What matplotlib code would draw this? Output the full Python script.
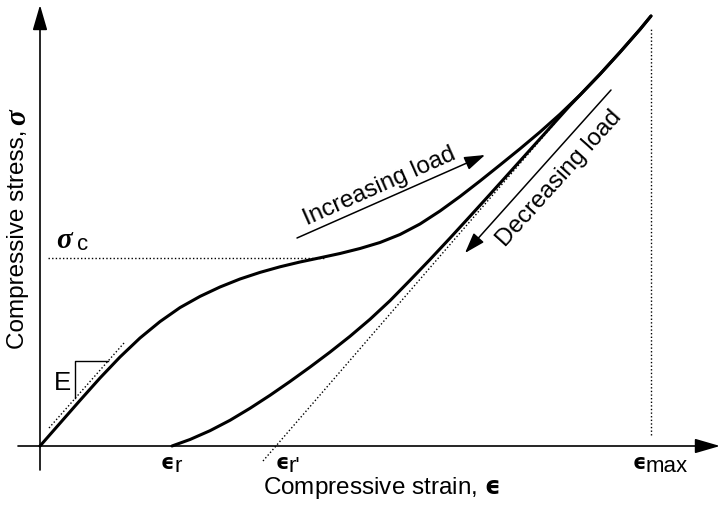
import numpy as np
import matplotlib
matplotlib.use("Agg")
import matplotlib.pyplot as plt

plt.rcParams['font.family'] = ['Liberation Sans', 'DejaVu Sans']
plt.rcParams['mathtext.fontset'] = 'custom'
plt.rcParams['mathtext.rm'] = 'Liberation Sans'
plt.rcParams['mathtext.bfit'] = 'Liberation Serif:italic:bold'
plt.rcParams['mathtext.bf'] = 'DejaVu Sans:bold'

# schematic stress-strain data (arbitrary units)
load_strain = [0, 20, 40, 60, 80, 100, 120, 140, 160, 180, 200, 220, 240, 260,
               280, 300, 320, 340, 360, 380, 400, 420, 440, 460, 480, 500, 520,
               540, 560, 580, 600, 611]
load_stress = [0, 22.8, 45.6, 68, 89, 108, 124.4, 138.4, 149.6, 159, 167, 173.6,
               179.2, 184, 188.2, 192.5, 197.5, 203.5, 211.5, 222, 235, 249.5,
               265, 281, 297.2, 314, 331.8, 351, 371.8, 393.8, 416.6, 430]

unload_strain = [132, 150, 170, 190, 210, 230, 250, 270, 290, 310, 330, 350,
                 370, 390, 410, 430, 450, 470, 490, 510, 530, 560, 580, 600, 611]
unload_stress = [0, 6.5, 15.3, 25.7, 37.7, 50.7, 64.5, 78.9, 93.9, 109.7, 126.7,
                 145.3, 165.7, 186.5, 207.9, 229.7, 251.7, 273.9, 296.1, 318.3,
                 340.5, 371.8, 393.8, 416.6, 430]

# reference lines
tangent_strain = [223, 515]          # unloading tangent -> eps_r'
tangent_stress = [-15, 323]
elastic_strain = [9, 84]             # initial slope E
elastic_stress = [18, 103]

eps_r = 132
eps_rp = 229
eps_max = 611
sig_c = 188

fig = plt.figure(figsize=(7.22, 5.05), dpi=100)
ax = fig.add_axes([0, 0, 1, 1])
ax.set_xlim(-40, 682)
ax.set_ylim(-59, 446)
ax.axis('off')

# axes with arrows
ax.annotate('', xy=(0, 441), xytext=(0, -24),
            arrowprops=dict(arrowstyle='-|>,head_length=1.1,head_width=0.32',
                            lw=1.2, color='k', mutation_scale=14,
                            shrinkA=0, shrinkB=0))
ax.annotate('', xy=(680, 0), xytext=(-22, 0),
            arrowprops=dict(arrowstyle='-|>,head_length=1.1,head_width=0.32',
                            lw=1.2, color='k', mutation_scale=14,
                            shrinkA=0, shrinkB=0))

# curves
ax.plot(load_strain, load_stress, color='k', lw=2.2, solid_capstyle='round',
        solid_joinstyle='round')
ax.plot(unload_strain, unload_stress, color='k', lw=2.2, solid_capstyle='round',
        solid_joinstyle='round')

dot = (0, (1, 1.6))
ax.plot(tangent_strain, tangent_stress, color='k', lw=1.0, ls=dot)
ax.plot(elastic_strain, elastic_stress, color='k', lw=1.0, ls=dot)
ax.plot([8, 285], [sig_c, sig_c], color='k', lw=1.0, ls=dot)
ax.plot([eps_max, eps_max], [11, 419], color='k', lw=1.0, ls=dot)

# slope triangle
ax.plot([35, 35, 68], [48, 85, 85], color='k', lw=1.0)
ax.text(22, 63, 'E', fontsize=18.5, ha='center', va='center')

# load direction arrows
ax.annotate('', xy=(445, 291), xytext=(257, 208),
            arrowprops=dict(arrowstyle='-|>,head_length=0.9,head_width=0.3',
                            lw=1.1, color='k', mutation_scale=14,
                            shrinkA=0, shrinkB=0))
ax.text(340, 259, 'Increasing load', fontsize=17.5, rotation=24,
        rotation_mode='anchor', ha='center', va='center')
ax.annotate('', xy=(425, 193), xytext=(571, 356),
            arrowprops=dict(arrowstyle='-|>,head_length=0.9,head_width=0.3',
                            lw=1.1, color='k', mutation_scale=14,
                            shrinkA=0, shrinkB=0))
ax.text(519, 267, 'Decreasing load', fontsize=17.5, rotation=48,
        rotation_mode='anchor', ha='center', va='center')

# axis labels
ax.text(-22, 207, 'Compressive stress,', fontsize=17.5,
        rotation=90, ha='center', va='center')
ax.text(-22, 329, r'$\boldsymbol{\sigma}$', fontsize=21,
        rotation=90, ha='center', va='center')
ax.text(341, -42, r'Compressive strain, $\mathbf{ϵ}$', fontsize=17.5,
        ha='center', va='center')

# sigma_c
ax.text(25, 206, r'$\boldsymbol{\sigma}$', fontsize=21, ha='center', va='center')
ax.text(43, 202, 'c', fontsize=16, ha='center', va='center')

# strain markers
def eps_label(x, sub):
    ax.text(x, -17, 'ϵ', fontsize=15, fontfamily='DejaVu Sans',
            fontweight='bold', ha='center', va='center')
    ax.text(x + 7, -20, sub, fontsize=16, ha='left', va='center')

eps_label(eps_r - 5, 'r')
eps_label(eps_rp + 13, "r'")
eps_label(eps_max - 12, 'max')

fig.savefig('out.png', dpi=100)
